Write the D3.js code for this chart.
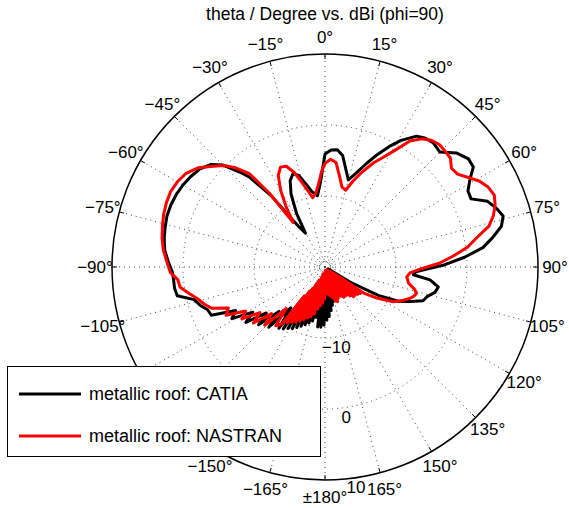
<!DOCTYPE html>
<meta charset="utf-8">

<!-- Load d3.js -->
<script src="https://cdn.jsdelivr.net/npm/d3@7"></script>

<style>
  body { margin: 0; background: #fff; }
  text { font-family: "Liberation Sans", Arial, Helvetica, sans-serif; fill: #000; }
  .grid { fill: none; stroke: #444; stroke-width: 1; stroke-dasharray: 1 4; }
</style>

<div id="my_dataviz"></div>

<script>
// theta in degrees (0 at top, clockwise), gain in dBi
const catiaTheta = [-179, -177.5, -176, -174.5, -173, -171.5, -170, -168.5, -167, -165.5, -164, -162.5,
  -161, -159.5, -158, -156.5, -155, -153.5, -152, -150.5, -149, -147.5, -146, -144.5, -143, -140,
  -137, -134, -131, -128, -125, -122, -119, -116, -113, -110, -107, -104, -101, -98, -95, -92, -88, -84,
  -80, -76, -72, -68, -64, -60, -56, -52, -48, -45, -42, -40, -37, -35, -33, -30, -28, -25, -22, -19,
  -16, -13, -10, -6, -3, 0, 3, 6, 9, 12, 15, 18, 22, 25, 28, 31, 35, 38, 41, 45, 49, 53, 56, 59, 62,
  65, 68, 71, 74, 77, 80, 83, 86, 89, 91, 93, 95, 97, 100, 103, 106, 109, 112, 115, 118,
  121, 122.5, 124, 125.5, 127, 128.5, 130, 131.5, 133, 134.5, 136, 137.5, 139, 140.5, 142, 143.5,
  145, 146.5, 148, 149.5, 151, 152.5, 154, 155.5, 157, 158.5, 160, 161.5, 163, 164.5, 166, 167.5,
  169, 170.5, 172, 173.5, 175, 176.5, 178, 179.5];
const catiaDb = [-11.8, -18.5, -11.5, -18.0, -11.5, -18.5, -12.8, -18.5, -12.2, -18.5, -11.8, -18.0,
  -11.4, -18.0, -11.0, -17.5, -10.6, -17.0, -10.2, -16.5, -9.9, -15.5, -9.5, -14.5, -9.2, -12.5,
  -8.4, -11.0, -7.6, -9.5, -6.4, -8.0, -5.0, -6.0, -2.6, -2.4, -1.6, -1.0, 1.2, 1.4, 1.4, 1.5, 2.1, 2.7,
  3.0, 3.2, 3.4, 3.4, 3.3, 3.1, 2.8, 2.4, 1.6, 0.3, -2.0, -3.5, -7.5, -11.4, -13.2, -14.5, -11.5, -8.7, -6.9, -6.1,
  -6.6, -8.0, -9.2, -9.9, -8.0, -4.1, -3.5, -3.4, -4.1, -5.9, -7.3, -6.2, -4.2, -2.5, -0.8, 0.8, 2.5, 3.0, 3.2, 2.9, 4.5, 5.3, 5.2, 3.8, 2.8,
  2.7, 4.7, 5.5, 6.1, 5.5, 4.0, 2.4, -0.3, -3.2, -5.5, -7.2, -7.5, -5.1, -3.8, -4.1, -5.0, -5.4, -7.0, -8.6, -11.5,
  -15.9, -19.5, -16.5, -19.5, -16.5, -19.5, -16.5, -19.5, -16.2, -19.5, -16.5, -19.5, -16.5, -19.5, -16.0, -19.5,
  -15.3, -19.5, -16.5, -19.5, -16.5, -19.5, -16.5, -19.5, -16.0, -19.5, -16.0, -19.5, -15.5, -19.5, -15.0, -19.5,
  -14.5, -19.0, -13.8, -19.0, -13.0, -18.5, -12.5, -18.5];

const nastranTheta = [-179, -177.5, -176, -174.5, -173, -171.5, -170, -168.5, -167, -165.5, -164, -162.5,
  -161, -159.5, -158, -156.5, -155, -153.5, -152, -150.5, -149, -147.5, -146, -144.5, -143, -140,
  -137, -134, -131, -128, -125, -122, -119, -116, -113, -110, -107, -104, -101, -98, -95, -92, -88, -84,
  -80, -76, -72, -68, -64, -60, -56, -52, -48, -45, -42, -39, -37, -35.5, -33, -30, -27, -24, -21, -18,
  -15, -12, -10, -7, -4, -2, 0, 3, 6, 9, 12, 15, 18, 21, 25, 28, 31, 34, 37, 40, 43, 46, 49, 52, 55, 58,
  61, 64, 67, 70, 73, 76, 79, 82, 85, 88, 91, 94, 97, 101, 104, 106, 108, 110, 113, 117, 121,
  124, 125.5, 127, 128.5, 130, 131.5, 133, 134.5, 136, 137.5, 139, 140.5, 142, 143.5, 145, 146.5,
  148, 149.5, 151, 152.5, 154, 155.5, 157, 158.5, 160, 161.5, 163, 164.5, 166, 167.5, 169, 170.5,
  172, 173.5, 175, 176.5, 178, 179.5];
const nastranDb = [-15.5, -19.0, -14.9, -19.0, -14.5, -19.0, -14.0, -18.5, -13.2, -19.0, -12.7, -18.5,
  -12.4, -18.0, -12.0, -18.0, -11.6, -17.5, -11.2, -16.5, -10.9, -16.0, -10.5, -15.0, -10.0, -9.2,
  -12.0, -8.2, -10.0, -7.2, -8.8, -6.2, -7.2, -4.5, -5.2, -3.0, -2.2, -1.5, -0.5, 0.6, 0.8, 1.8, 2.3, 2.9,
  3.3, 3.6, 3.9, 4.1, 4.2, 4.0, 3.6, 2.7, 1.2, 0.2, -1.2, -3.1, -7.0, -12.3, -10.0, -7.5, -5.5, -4.6, -4.8, -6.0,
  -7.8, -9.3, -10.1, -9.5, -8.0, -6.5, -5.4, -4.8, -5.2, -7.0, -8.5, -8.8, -7.3, -5.8, -3.8, -2.5, -0.8, 1.4, 2.6, 3.3, 3.6, 3.5, 3.4, 2.6, 2.8, 3.8,
  4.9, 5.6, 5.9, 5.5, 4.8, 3.8, 1.8, 0.3, -1.8, -3.8, -6.4, -8.0, -8.4, -8.0, -7.0, -6.6, -6.8, -7.2, -8.0, -9.2, -11.5,
  -13.5, -18.5, -13.8, -19.0, -14.0, -18.5, -14.2, -19.0, -14.2, -19.0, -14.6, -19.5, -15.0, -19.0, -15.0, -19.5,
  -15.0, -19.0, -15.3, -19.5, -15.5, -19.0, -15.2, -19.5, -14.8, -19.0, -15.0, -19.5, -15.5, -19.0, -15.8, -19.5,
  -16.0, -19.0, -16.2, -19.5, -16.5, -19.0];

const angleTicks = [0, 15, 30, 45, 60, 75, 90, 105, 120, 135, 150, 165, 180,
  -165, -150, -135, -120, -105, -90, -75, -60, -45, -30, -15];
const ringValues = [-18.9, -10, 0];   // dotted rings (outer ring at 10 is solid)
const radialLabels = [-10, 0, 10];
const seriesNames = ["metallic roof: CATIA", "metallic roof: NASTRAN"];
const seriesColors = ["#000000", "#ff0000"];
const titleText = "theta / Degree vs. dBi (phi=90)";

// dimensions
const width = 569, height = 508;
const cx = 325, cy = 267, R = 213;

const svg = d3.select("#my_dataviz")
  .append("svg")
    .attr("width", width)
    .attr("height", height);

const g = svg.append("g")
  .attr("transform", `translate(${cx},${cy})`);

// radial scale: dBi -> pixels
const r = d3.scaleLinear()
  .domain([-20, 10])
  .range([0, R])
  .clamp(true);

const rad = d => d * Math.PI / 180;
const px = (a, d) => d * Math.sin(rad(a));
const py = (a, d) => -d * Math.cos(rad(a));

// ---- grid ----
g.selectAll(".spoke")
  .data(angleTicks)
  .join("line")
    .attr("class", "grid")
    .attr("x1", 0).attr("y1", 0)
    .attr("x2", d => px(d, R))
    .attr("y2", d => py(d, R));

g.selectAll(".ring")
  .data(ringValues)
  .join("circle")
    .attr("class", "grid")
    .attr("r", d => r(d));

// ---- curves ----
const catia = catiaTheta.map((t, i) => [t, catiaDb[i]]);
const nastran = nastranTheta.map((t, i) => [t, nastranDb[i]]);

const line = d3.lineRadial()
  .angle(d => rad(d[0]))
  .radius(d => r(d[1]))
  .curve(d3.curveLinearClosed);

[catia, nastran].forEach((data, i) => {
  g.append("path")
    .datum(data)
    .attr("d", line)
    .attr("fill", "none")
    .attr("stroke", seriesColors[i])
    .attr("stroke-width", 3)
    .attr("stroke-linejoin", "round");
});

// ---- outer circle and ticks ----
g.append("circle")
  .attr("r", R)
  .attr("fill", "none")
  .attr("stroke", "#000")
  .attr("stroke-width", 1.5);

g.selectAll(".tick")
  .data(angleTicks)
  .join("line")
    .attr("x1", d => px(d, R - 5))
    .attr("y1", d => py(d, R - 5))
    .attr("x2", d => px(d, R))
    .attr("y2", d => py(d, R))
    .attr("stroke", "#000")
    .attr("stroke-width", 1);

// angle labels
const angleLabel = d => d === 180 ? "\u00b1180\u00b0" : (d < 0 ? "\u2212" + (-d) : d) + "\u00b0";
g.selectAll(".alabel")
  .data(angleTicks)
  .join("text")
    .attr("x", d => px(d, 230))
    .attr("y", d => py(d, 230))
    .attr("text-anchor", "middle")
    .attr("dominant-baseline", "central")
    .style("font-size", "17px")
    .text(angleLabel);

// radial labels
g.selectAll(".rlabel")
  .data(radialLabels)
  .join("text")
    .attr("x", d => px(172, r(d) + 10))
    .attr("y", d => py(172, r(d) + 10))
    .attr("text-anchor", "middle")
    .attr("dominant-baseline", "central")
    .style("font-size", "17px")
    .text(d => d < 0 ? "\u2212" + (-d) : d);

// title
svg.append("text")
  .attr("x", cx)
  .attr("y", 14)
  .attr("text-anchor", "middle")
  .attr("dominant-baseline", "central")
  .style("font-size", "17.5px")
  .text(titleText);

// ---- legend ----
const legend = svg.append("g");
legend.append("rect")
  .attr("x", 7.5).attr("y", 366.5)
  .attr("width", 313).attr("height", 90)
  .attr("fill", "#fff")
  .attr("stroke", "#000")
  .attr("stroke-width", 1);

legend.selectAll("line")
  .data(seriesNames)
  .join("line")
    .attr("x1", 19).attr("x2", 81)
    .attr("y1", (d, i) => 394 + i * 42)
    .attr("y2", (d, i) => 394 + i * 42)
    .attr("stroke", (d, i) => seriesColors[i])
    .attr("stroke-width", 3);

legend.selectAll("text")
  .data(seriesNames)
  .join("text")
    .attr("x", 89)
    .attr("y", (d, i) => 394 + i * 42)
    .attr("dominant-baseline", "central")
    .style("font-size", "18px")
    .text(d => d);
</script>
